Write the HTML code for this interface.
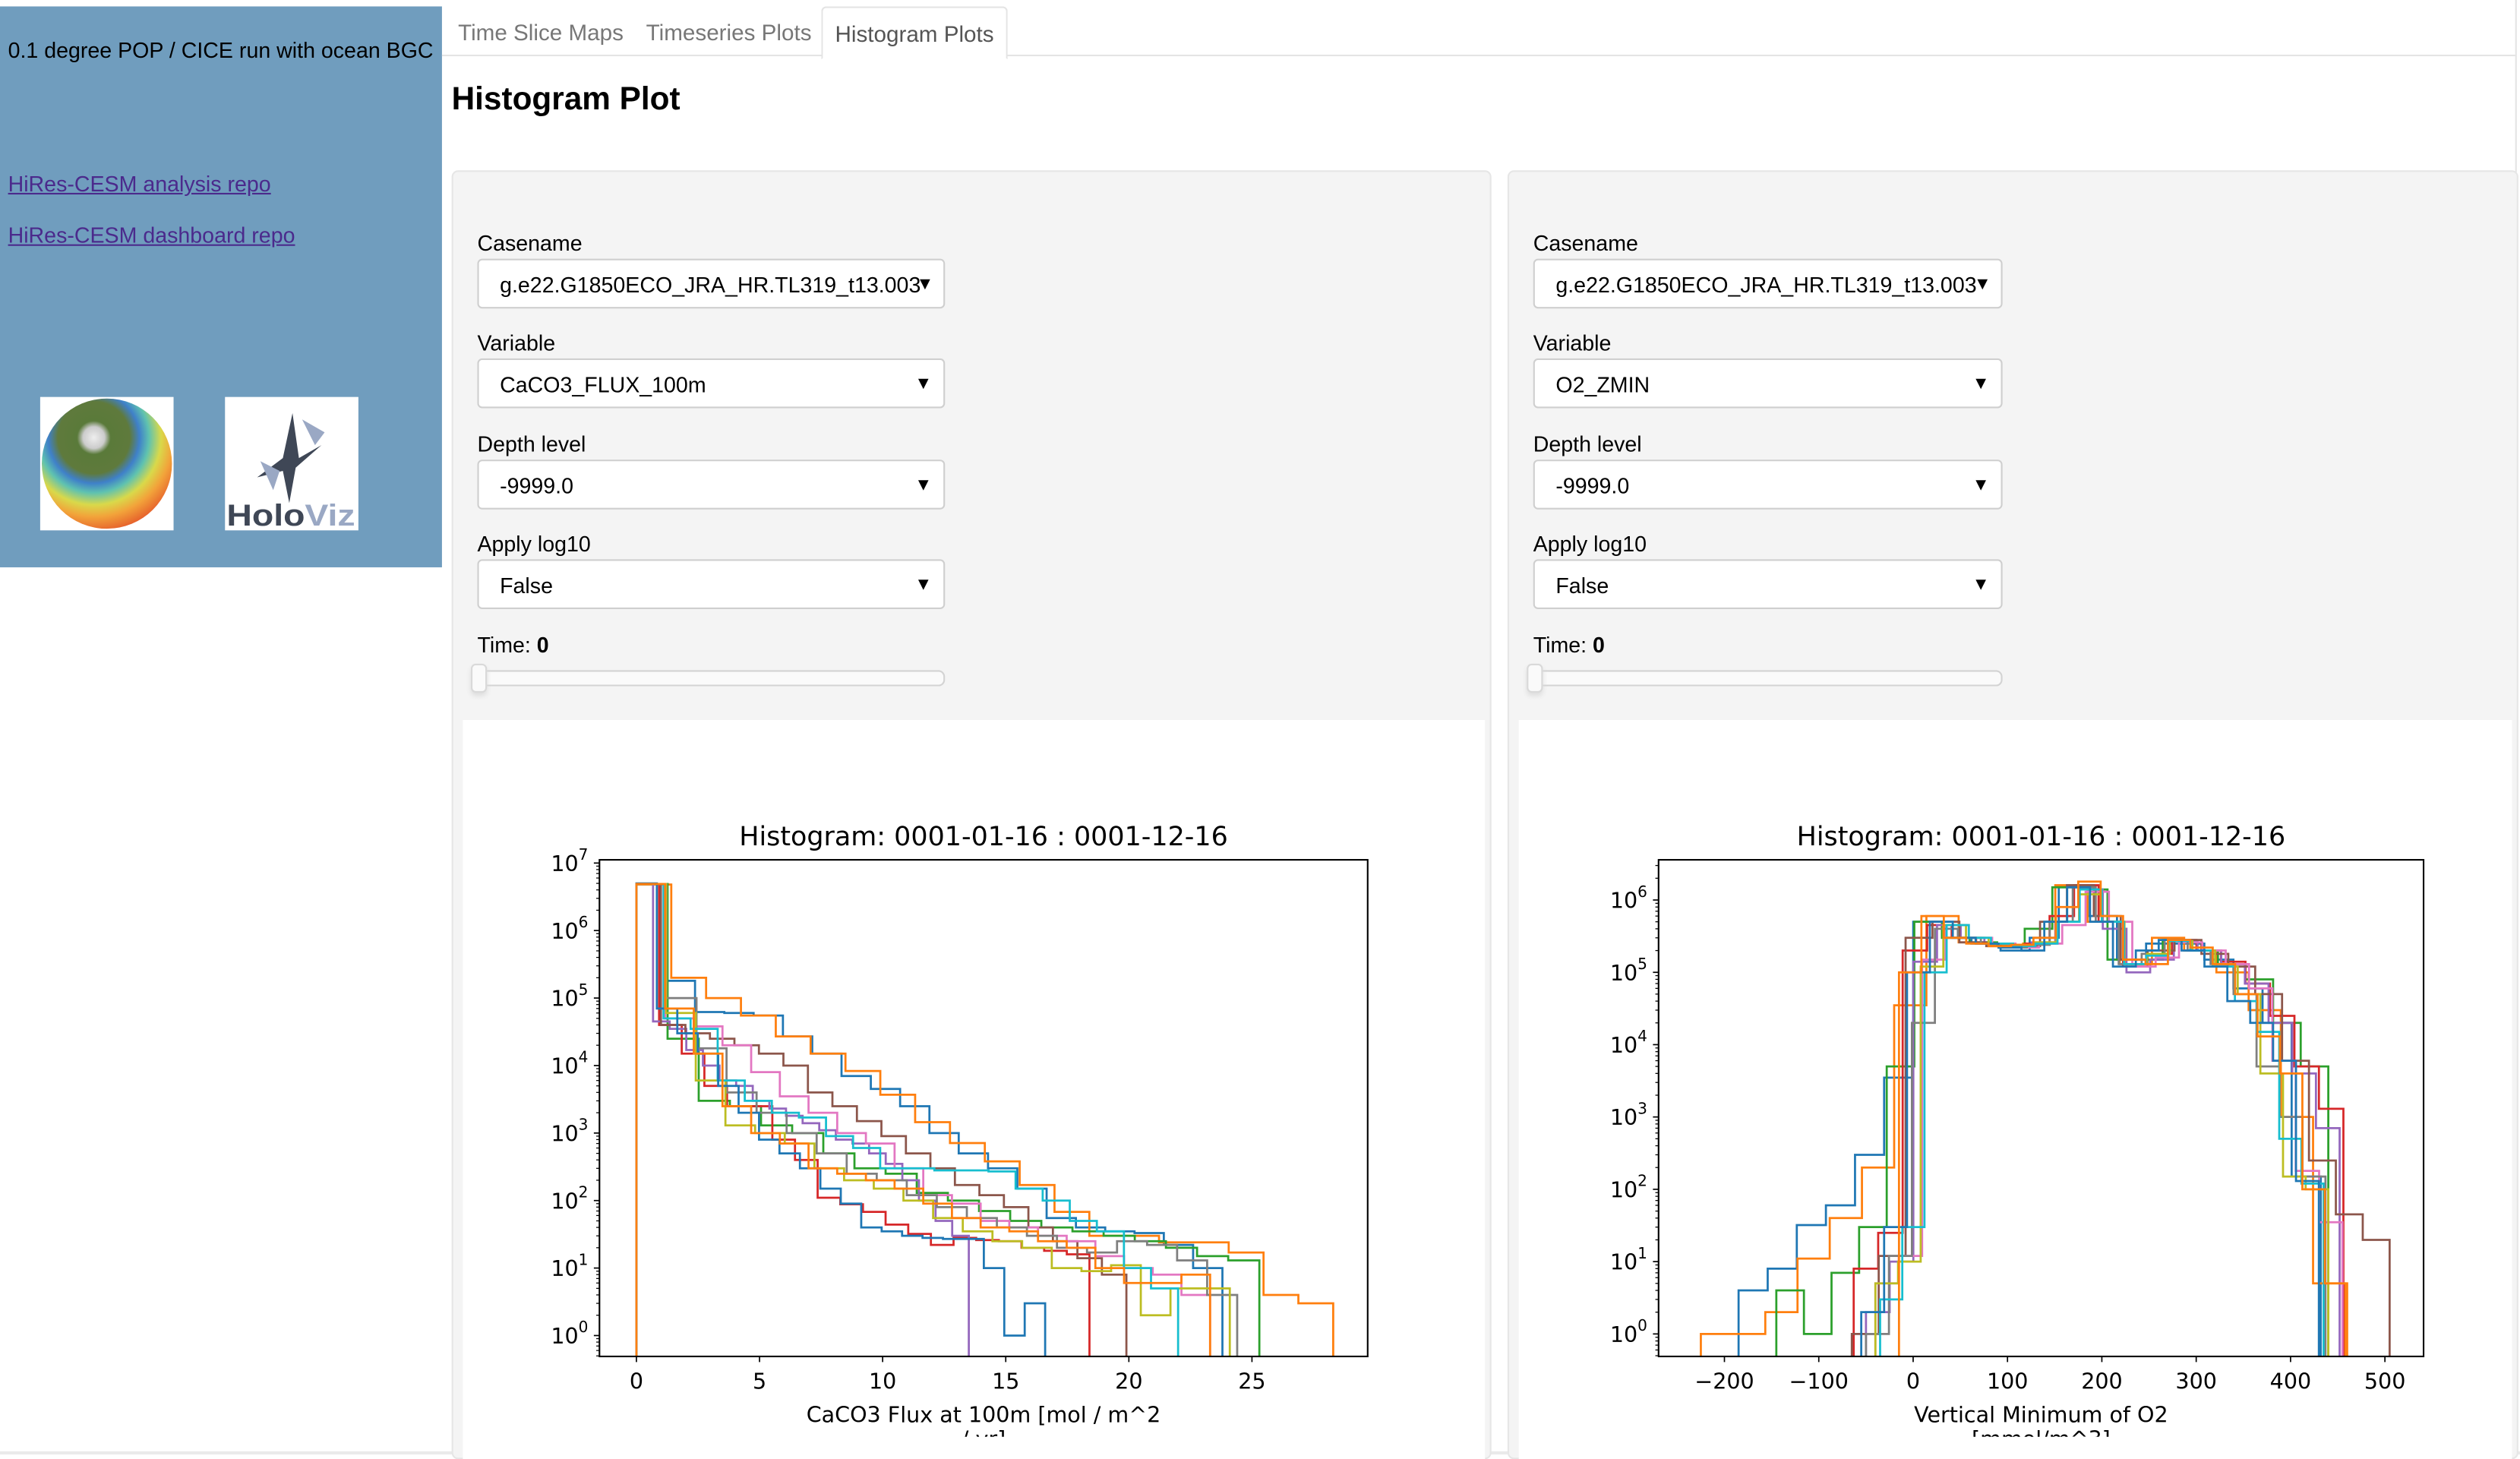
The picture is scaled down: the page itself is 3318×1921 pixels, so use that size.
<!DOCTYPE html>
<html><head><meta charset="utf-8">
<style>
html,body{margin:0;padding:0;width:3318px;height:1914px;overflow:hidden;background:#fff;}
#wrap{position:absolute;left:0;top:0;width:1568px;height:905px;transform:scale(2.11607);transform-origin:0 0;font-family:"Liberation Sans",sans-serif;color:#000;}
.abs{position:absolute;}
#side{left:0;top:4px;width:275px;height:349px;background:#709dbe;}
.lnk{color:#4b2a8c;text-decoration:underline;font-size:13.5px;}
.tab{top:4px;height:30px;line-height:33px;font-size:14px;color:#777;}
.panel{background:#f4f4f4;border:1px solid #e6e6e6;border-radius:4px;}
.lbl{font-size:13.5px;}
.sel{background:#fff;border:1px solid #cfcfcf;border-radius:3px;height:31px;box-sizing:border-box;font-size:13.5px;line-height:31px;padding-left:13px;}
.arrow{position:absolute;right:7px;top:0;font-size:11px;}
.slider{background:#fafafa;border:1px solid #d3d3d3;border-radius:4px;height:10px;box-sizing:border-box;}
.handle{background:#fafafa;border:1px solid #d9d9d9;border-radius:3px;width:10px;height:18px;box-sizing:border-box;box-shadow:0 2px 3px #ddd;}
</style></head>
<body>
<div id="wrap">
  <div class="abs" id="side">
    <div class="abs" style="left:5px;top:20px;font-size:13.5px;white-space:nowrap;">0.1 degree POP / CICE run with ocean BGC</div>
    <a class="abs lnk" style="left:5px;top:103px;">HiRes-CESM analysis repo</a>
    <a class="abs lnk" style="left:5px;top:135px;">HiRes-CESM dashboard repo</a>
    <div class="abs" style="left:25px;top:243px;width:83px;height:83px;background:#fff;">
      <div style="position:absolute;left:1px;top:1px;width:81px;height:81px;border-radius:50%;background:radial-gradient(circle at 40% 30%,#eee 0,#ccc 9%,#5a7a3a 14%,#5f7a3c 30%,#3f80c9 38%,#5fc2b0 46%,#d9d94a 56%,#f2a33a 66%,#e55a2a 80%,#c94020 100%);"></div>
    </div>
    <div class="abs" style="left:140px;top:243px;width:83px;height:83px;background:#fff;overflow:hidden;">
      <svg width="83" height="83" viewBox="0 0 83 83"><polygon points="42,10 46,38 60,30 44,44 40,66 36,46 20,50 36,38" fill="#3f4756"/><polygon points="48,14 62,22 56,30" fill="#9aa8c4"/><polygon points="22,40 30,58 34,46" fill="#9aa8c4"/>
      <text x="1" y="80" font-family="Liberation Sans,sans-serif" font-weight="bold" font-size="19" textLength="80" lengthAdjust="spacingAndGlyphs" fill="#3f4756">Holo<tspan fill="#9aa8c4">Viz</tspan></text></svg>
    </div>
  </div>

  <div class="abs" style="left:275px;top:34px;width:1290px;height:1px;background:#e4e4e4;"></div>
  <div class="abs tab" style="left:285px;">Time Slice Maps</div>
  <div class="abs tab" style="left:402px;">Timeseries Plots</div>
  <div class="abs tab" style="left:511px;width:114px;height:31px;border:1px solid #e4e4e4;border-bottom:1px solid #fff;border-radius:3px 3px 0 0;text-align:center;color:#555;background:#fff;">Histogram Plots</div>
  <div class="abs" style="left:281px;top:51px;font-size:20px;font-weight:bold;">Histogram Plot</div>
  <div class="abs" style="left:1565px;top:0;width:1px;height:905px;background:#e4e4e4;"></div>
  <div class="abs" style="left:0;top:903px;width:1568px;height:2px;background:#eaeaea;"></div>

  <div class="abs panel" style="left:281px;top:106px;width:645px;height:800px;">
    <div class="abs lbl" style="left:15px;top:37px;">Casename</div>
    <div class="abs sel" style="left:15px;top:54px;width:291px;">g.e22.G1850ECO_JRA_HR.TL319_t13.003<span class="arrow" style="right:6px">▼</span></div>
    <div class="abs lbl" style="left:15px;top:99px;">Variable</div>
    <div class="abs sel" style="left:15px;top:116px;width:291px;">CaCO3_FLUX_100m<span class="arrow">▼</span></div>
    <div class="abs lbl" style="left:15px;top:162px;">Depth level</div>
    <div class="abs sel" style="left:15px;top:179px;width:291px;">-9999.0<span class="arrow">▼</span></div>
    <div class="abs lbl" style="left:15px;top:224px;">Apply log10</div>
    <div class="abs sel" style="left:15px;top:241px;width:291px;">False<span class="arrow">▼</span></div>
    <div class="abs lbl" style="left:15px;top:287px;">Time: <b>0</b></div>
    <div class="abs slider" style="left:15px;top:310px;width:291px;"></div>
    <div class="abs handle" style="left:11px;top:306px;"></div>
    <div class="abs" style="left:6px;top:341px;width:636px;height:460px;background:#fff;"></div>
  </div>
  <div class="abs panel" style="left:938px;top:106px;width:627px;height:800px;">
    <div class="abs lbl" style="left:15px;top:37px;">Casename</div>
    <div class="abs sel" style="left:15px;top:54px;width:292px;">g.e22.G1850ECO_JRA_HR.TL319_t13.003<span class="arrow" style="right:6px">▼</span></div>
    <div class="abs lbl" style="left:15px;top:99px;">Variable</div>
    <div class="abs sel" style="left:15px;top:116px;width:292px;">O2_ZMIN<span class="arrow">▼</span></div>
    <div class="abs lbl" style="left:15px;top:162px;">Depth level</div>
    <div class="abs sel" style="left:15px;top:179px;width:292px;">-9999.0<span class="arrow">▼</span></div>
    <div class="abs lbl" style="left:15px;top:224px;">Apply log10</div>
    <div class="abs sel" style="left:15px;top:241px;width:292px;">False<span class="arrow">▼</span></div>
    <div class="abs lbl" style="left:15px;top:287px;">Time: <b>0</b></div>
    <div class="abs slider" style="left:15px;top:310px;width:292px;"></div>
    <div class="abs handle" style="left:11px;top:306px;"></div>
    <div class="abs" style="left:6px;top:341px;width:618px;height:460px;background:#fff;"></div>
  </div>

  <svg id="charts" class="abs" style="left:0;top:0;" width="1568" height="905" viewBox="0 0 1568 905">
    <defs>
      <clipPath id="clipL"><rect x="373" y="535" width="478" height="309"/></clipPath>
      <clipPath id="clipR"><rect x="1032" y="535" width="476" height="309"/></clipPath>
      <clipPath id="clipBottom"><rect x="0" y="0" width="1568" height="894"/></clipPath>
    </defs>
  </svg>
</div>
<script>
const COLORS = ['#1f77b4','#ff7f0e','#2ca02c','#d62728','#9467bd','#8c564b','#e377c2','#7f7f7f','#bcbd22','#17becf','#1f77b4','#ff7f0e'];

const leftMins = [0,0,0,0,0,0,0,0,0,0,0,0];
const leftMaxs = [23.8,28.3,25.3,18.4,13.5,19.9,23.3,24.4,24.1,22.0,16.6,23.3];
const leftCounts = [
 [4.9e6,1.8e5,6.2e4,6e4,5.5e4,2.7e4,1.5e4,7e3,4.5e3,2.5e3,1e3,500,300,150,55,40,35,33,22,10],
 [4.8e6,2e5,1e5,5.5e4,2.7e4,1.5e4,8.3e3,3.7e3,1.45e3,710,380,170,68,30,30,24,24,17,4,3],
 [4.9e6,2.5e4,3e3,2.5e3,1.3e3,1e3,500,300,250,130,100,70,50,40,35,30,25,20,15,13],
 [4.9e6,4e4,1.5e4,5e3,2.5e3,2.5e3,800,400,110,88,68,44,32,22,28,26,25,20,18,16],
 [4.9e6,4.5e4,3.5e4,1.7e4,1e4,6e3,5e3,3e3,2.3e3,1.8e3,1.4e3,1.1e3,800,700,500,350,200,100,50,30],
 [4.9e6,4e4,3e4,2.5e4,2e4,1.5e4,1e4,4e3,2.5e3,1.5e3,900,500,300,170,120,80,40,25,14,8],
 [4.9e6,5e4,3.8e4,2e4,8e3,3.5e3,2e3,1e3,700,300,120,90,50,40,30,25,15,10,8,4],
 [4.9e6,1e5,1.8e4,4e3,2e3,1e3,500,250,200,120,80,55,40,30,20,17,25,22,13,4],
 [4.9e6,6e4,6e3,1.3e3,1e3,700,300,200,150,100,55,35,25,20,10,9,11,2,5,5],
 [4.9e6,5e4,3.5e4,6e3,3e3,2e3,1.7e3,900,600,300,300,280,280,270,150,100,50,35,10,5],
 [5e6,7e4,3e4,1.5e4,5e3,2e3,800,500,300,150,90,40,35,30,28,27,27,10,1,3],
 [4.9e6,7e4,1.5e4,2.5e3,1e3,700,300,250,200,150,90,55,40,35,25,20,10,6,6,8]
];
const leftXTicks = [0,5,10,15,20,25];
const leftYDecades = [0,1,2,3,4,5,6,7];

const rightMins = [-185,-225,-145,-63,-50,-65,-40,-50,-40,-35,-55,-15];
const rightMaxs = [432,458,440,456,452,505,455,437,440,435,430,460];
const rightCounts = [
 [4,8,32,60,300,3500,5e5,3e5,2.5e5,2e5,3e5,1.5e6,6e5,1.5e5,2.5e5,2.5e5,1.5e5,6e4,2e4,150],
 [1,1,2,11,40,200,3.5e4,6e5,2.6e5,2.4e5,2.5e5,1.6e6,5e5,1.3e5,3e5,2e5,1e5,3e4,1e3,5],
 [4,1,7,30,5e3,5e5,3e5,2.6e5,2.3e5,4e5,1.5e6,1.4e6,1.5e5,1.5e5,2.8e5,2e5,1.3e5,8e4,2e4,5e3],
 [8,25,2e5,4.5e5,3e5,2.5e5,2.2e5,2.5e5,6e5,1.6e6,5e5,1.2e5,1.8e5,2.8e5,2e5,1.4e5,7e4,2.5e4,5e3,1.3e3],
 [2,10,1.4e5,4.5e5,3e5,2.5e5,2.2e5,2.6e5,5e5,1.4e6,4e5,1e5,1.5e5,2.7e5,2e5,1.3e5,7e4,2e4,4e3,700],
 [1,12,3e5,5e5,2.6e5,2.3e5,2.3e5,5e5,1.6e6,6e5,1.5e5,2e5,2.8e5,1.8e5,1.2e5,5e4,6e3,250,45,20],
 [5,12,1.5e5,4.5e5,3e5,2.5e5,2.2e5,2.5e5,4.5e5,1.3e6,5e5,1.2e5,1.6e5,2.6e5,2e5,1.3e5,6e4,6e3,180,35],
 [1,12,2e4,4e5,3e5,2.5e5,2.2e5,2.4e5,5e5,1.5e6,5e5,1.3e5,1.8e5,2.8e5,2e5,1.3e5,5e4,5e3,1e3,150],
 [5,10,1.2e5,4.5e5,3e5,2.5e5,2.4e5,2.6e5,5e5,1.2e6,5e5,1.3e5,1.8e5,2.7e5,2e5,1.2e5,5e4,4e3,150,100],
 [3,30,1e5,4.5e5,3e5,2.5e5,2.3e5,2.5e5,5e5,1.4e6,5e5,1.3e5,1.7e5,2.7e5,2e5,1.2e5,4e4,1.5e4,500,120],
 [2,30,1e5,5e5,3e5,2.5e5,2.2e5,2e5,5e5,1.5e6,5e5,1.2e5,2e5,2.8e5,2e5,1.2e5,4e4,2e4,6e3,130],
 [1e5,6e5,3e5,2.5e5,2.3e5,2.4e5,3e5,8e5,1.8e6,6e5,1.5e5,1.3e5,2.8e5,2.2e5,1.3e5,5e4,1.3e4,4e3,100,5]
];
const rightXTicks = [-200,-100,0,100,200,300,400,500];
const rightYDecades = [0,1,2,3,4,5,6];

const NS='http://www.w3.org/2000/svg';
const svg=document.getElementById('charts');
function mk(tag,attrs,parent){const e=document.createElementNS(NS,tag);for(const k in attrs)e.setAttribute(k,attrs[k]);(parent||svg).appendChild(e);return e;}

function drawChart(cfg){
  const g=mk('g',{'clip-path':'url(#clipBottom)'});
  
  
  const X=v=>cfg.x0px+v*cfg.xk, Y=v=>cfg.y0px-Math.log10(v)*cfg.yk;
  const L=cfg.box[0],T=cfg.box[1],R=cfg.box[2],B=cfg.box[3];
  const t=mk('text',{x:(L+R)/2,y:T-9,'text-anchor':'middle','font-family':'DejaVu Sans,sans-serif','font-size':'16.5'},g);
  t.textContent=cfg.title;
  
  
  const sg=mk('g',{'clip-path':cfg.clip},g);
  cfg.counts.forEach((c,si)=>{
    const mn=cfg.mins[si],mx=cfg.maxs[si],w=(mx-mn)/c.length;
    let d='M'+X(mn)+','+(B+5);
    c.forEach((v,i)=>{d+=' L'+X(mn+i*w)+','+Y(v)+' L'+X(mn+(i+1)*w)+','+Y(v);});
    d+=' L'+X(mx)+','+(B+5);
    const p=mk('path',{d:d,fill:'none',stroke:COLORS[si],'stroke-width':'1.3'},sg);
    
    
  });
  const frame=mk('rect',{x:L,y:T,width:R-L,height:B-T,fill:'none',stroke:'#000','stroke-width':'1'},g);
  
  
  cfg.xticks.forEach(v=>{
    mk('line',{x1:X(v),x2:X(v),y1:B,y2:B+3.5,stroke:'#000','stroke-width':'0.8'},g);
    const tx=mk('text',{x:X(v),y:B+20,'text-anchor':'middle','font-family':'DejaVu Sans,sans-serif','font-size':'13.5'},g);
    tx.textContent=(v<0?'\u2212'+(-v):String(v));
    
    
  });
  cfg.ydec.forEach(dd=>{
    const y=cfg.y0px-dd*cfg.yk;
    mk('line',{x1:L-3.5,x2:L,y1:y,y2:y,stroke:'#000','stroke-width':'0.8'},g);
    for(let m=2;m<=9;m++){const ym=y-Math.log10(m)*cfg.yk;if(ym>T&&ym<B)mk('line',{x1:L-2,x2:L,y1:ym,y2:ym,stroke:'#000','stroke-width':'0.6'},g);}
    const ty=mk('text',{x:L-7,y:y+5,'text-anchor':'end','font-family':'DejaVu Sans,sans-serif','font-size':'13.5'},g);
    ty.textContent='10';
    const sp=mk('tspan',{dy:'-7','font-size':'9.5'},ty);sp.textContent=String(dd);
    
    
  });
  for(let m=5;m<=9;m++){const ym=cfg.y0px-Math.log10(m/10)*cfg.yk;if(ym<B)mk('line',{x1:L-2,x2:L,y1:ym,y2:ym,stroke:'#000','stroke-width':'0.6'},g);}
  cfg.xlabel.forEach((s,i)=>{
    const xl=mk('text',{x:(L+R)/2,y:B+41+i*15,'text-anchor':'middle','font-family':'DejaVu Sans,sans-serif','font-size':'13.5'},g);
    xl.textContent=s;
    
    
  });
}
drawChart({name:'caco3-histogram-chart',box:[373,535,851,844],x0px:396,xk:15.32,y0px:831,yk:42,clip:'url(#clipL)',
  title:'Histogram: 0001-01-16 : 0001-12-16',mins:leftMins,maxs:leftMaxs,counts:leftCounts,xticks:leftXTicks,ydec:leftYDecades,
  xlabel:['CaCO3 Flux at 100m [mol / m^2','/ yr]']});
drawChart({name:'o2-zmin-histogram-chart',box:[1032,535,1508,844],x0px:1190.4,xk:0.5871,y0px:830,yk:45,clip:'url(#clipR)',
  title:'Histogram: 0001-01-16 : 0001-12-16',mins:rightMins,maxs:rightMaxs,counts:rightCounts,xticks:rightXTicks,ydec:rightYDecades,
  xlabel:['Vertical Minimum of O2','[mmol/m^3]']});
</script>
</body></html>
